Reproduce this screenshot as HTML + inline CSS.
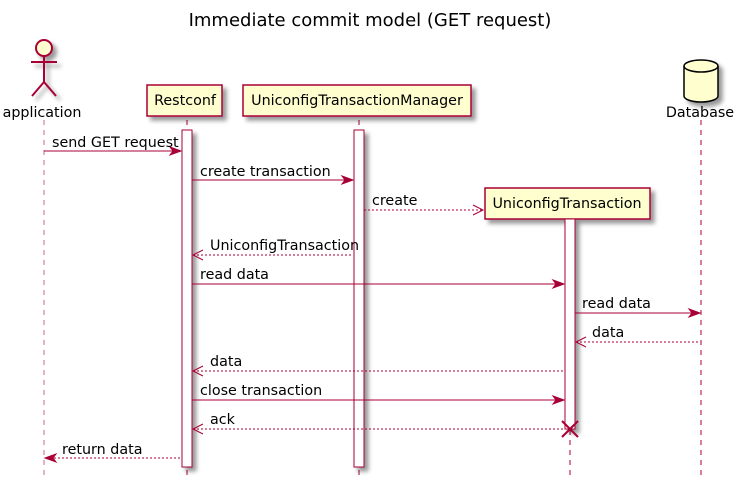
<!DOCTYPE html>
<html><head><meta charset="utf-8"><style>body{margin:0;background:#fff}svg{display:block}</style></head><body>
<svg width="736" height="480" xmlns="http://www.w3.org/2000/svg" font-family="DejaVu Sans, Liberation Sans, sans-serif" font-size="14.3">
<defs>
<filter id="sh" x="-20%" y="-20%" width="150%" height="150%"><feDropShadow dx="4" dy="4" stdDeviation="2" flood-color="#000" flood-opacity="0.4"/></filter>
</defs>
<text x="370" y="26" font-size="18" text-anchor="middle" fill="#000">Immediate commit model (GET request)</text>
<g stroke-dasharray="5,5" stroke-width="1">
<line x1="44" y1="120" x2="44" y2="476" stroke="#A80036" opacity="0.6"/>
<line x1="187" y1="120" x2="187" y2="476" stroke="#A80036"/>
<line x1="359" y1="120" x2="359" y2="476" stroke="#A80036"/>
<line x1="570" y1="220" x2="570" y2="476" stroke="#A80036"/>
<line x1="701" y1="120" x2="701" y2="476" stroke="#A80036"/>
</g>
<g stroke="#A80036" stroke-width="2" fill="#FEFECE" filter="url(#sh)">
<circle cx="44" cy="48" r="8"/>
<line x1="44" y1="56" x2="44" y2="82"/>
<line x1="31" y1="62" x2="57" y2="62"/>
<line x1="44" y1="82" x2="32" y2="96"/>
<line x1="44" y1="82" x2="56" y2="96"/>
</g>
<text x="42" y="117" text-anchor="middle">application</text>
<g stroke="#A80036" stroke-width="1.5" fill="#FEFECE" filter="url(#sh)">
<rect x="147" y="85" width="75" height="31"/>
<rect x="243" y="85" width="228" height="31"/>
<rect x="485" y="188" width="165" height="31"/>
</g>
<text x="185" y="105" text-anchor="middle">Restconf</text>
<text x="357" y="105" text-anchor="middle">UniconfigTransactionManager</text>
<text x="567" y="208" text-anchor="middle">UniconfigTransaction</text>
<g filter="url(#sh)" stroke="#000" stroke-width="1.5" fill="#FEFECE">
<path d="M684 66 v30 a17 6 0 0 0 34 0 v-30 a17 6 0 0 0 -34 0 z"/>
<path d="M684 66 a17 6 0 0 0 34 0" fill="none"/>
</g>
<text x="700" y="117" text-anchor="middle">Database</text>
<g stroke="#A80036" stroke-width="1" fill="#fff" filter="url(#sh)">
<rect x="182" y="130" width="10" height="337"/>
<rect x="354" y="130" width="10" height="337"/>
<rect x="565" y="219" width="10" height="210"/>
</g>
<g stroke="#A80036" stroke-width="1" fill="none">
<line x1="44" y1="151" x2="180" y2="151"/>
<line x1="192" y1="180" x2="352" y2="180"/>
<line x1="364" y1="210" x2="483" y2="210" stroke-dasharray="2,2"/>
<line x1="193" y1="255" x2="353" y2="255" stroke-dasharray="2,2"/>
<line x1="192" y1="284" x2="563" y2="284"/>
<line x1="575" y1="313" x2="699" y2="313"/>
<line x1="576" y1="342" x2="700" y2="342" stroke-dasharray="2,2"/>
<line x1="193" y1="371" x2="564" y2="371" stroke-dasharray="2,2"/>
<line x1="192" y1="400" x2="563" y2="400"/>
<line x1="193" y1="429" x2="564" y2="429" stroke-dasharray="2,2"/>
<line x1="46" y1="458" x2="181" y2="458" stroke-dasharray="2,2"/>
<polyline points="473,205 483,210 473,215"/>
<polyline points="203,250 193,255 203,260"/>
<polyline points="586,337 576,342 586,347"/>
<polyline points="203,366 193,371 203,376"/>
<polyline points="203,424 193,429 203,434"/>
</g>
<g fill="#A80036" stroke="#A80036">
<polygon points="170,147 181,151 170,155 173,151"/>
<polygon points="342,176 353,180 342,184 345,180"/>
<polygon points="553,280 564,284 553,288 556,284"/>
<polygon points="689,309 700,313 689,317 692,313"/>
<polygon points="553,396 564,400 553,404 556,400"/>
<polygon points="56,454 45,458 56,462 53,458"/>
</g>
<g stroke="#A80036" stroke-width="2">
<line x1="562" y1="421" x2="578" y2="437"/><line x1="578" y1="421" x2="562" y2="437"/>
</g>
<g fill="#000">
<text x="52" y="147">send GET request</text>
<text x="200" y="176">create transaction</text>
<text x="372" y="205">create</text>
<text x="210" y="250">UniconfigTransaction</text>
<text x="200" y="279">read data</text>
<text x="582" y="308">read data</text>
<text x="592" y="337">data</text>
<text x="210" y="366">data</text>
<text x="200" y="395">close transaction</text>
<text x="210" y="424">ack</text>
<text x="62" y="454">return data</text>
</g>
</svg>
</body></html>
